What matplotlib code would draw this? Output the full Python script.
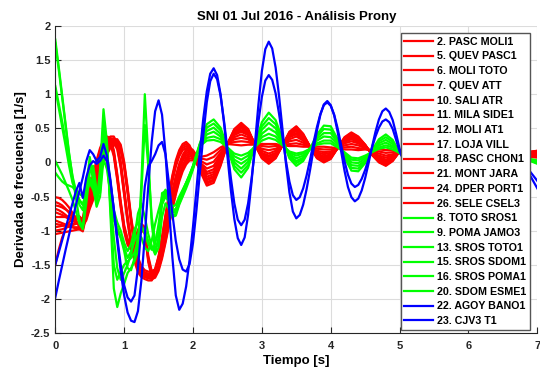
import numpy as np
import matplotlib
matplotlib.use("Agg")
import matplotlib.pyplot as plt

plt.rcParams['font.family'] = ['Liberation Sans', 'DejaVu Sans']
plt.rcParams['font.weight'] = 'bold'

# ---------------- sample times ----------------
tail_t = [5.2, 5.6, 6.0, 6.4, 6.7, 6.9, 7.0]
t_blue = list(np.round(np.arange(0, 5.0001, 0.05), 2)) + tail_t
t_rg = (list(np.round(np.arange(0, 2.0001, 0.05), 2))
        + list(np.round(np.arange(2.1, 5.0001, 0.1), 2)) + tail_t)

# ---------------- labels ----------------
red_labels = ['2. PASC MOLI1', '5. QUEV PASC1', '6. MOLI TOTO', '7. QUEV ATT',
              '10. SALI ATR', '11. MILA SIDE1', '12. MOLI AT1', '17. LOJA VILL',
              '18. PASC CHON1', '21. MONT JARA', '24. DPER PORT1', '26. SELE CSEL3']
green_labels = ['8. TOTO SROS1', '9. POMA JAMO3', '13. SROS TOTO1',
                '15. SROS SDOM1', '16. SROS POMA1', '20. SDOM ESME1']
blue_labels = ['22. AGOY BANO1', '23. CJV3 T1']

# ---------------- red series (t_rg) ----------------
red_02 = [-0.51, -0.52, -0.55, -0.60, -0.66, -0.74, -0.84,
          -0.95, -0.98, -0.75, -0.55, -0.40, -0.18, 0.00, 0.15, 0.26, 0.32, 0.32, 0.22, -0.05, -0.45, -0.85, -1.18, -1.42, -1.58, -1.65, -1.68, -1.70, -1.70, -1.62, -1.45, -1.22, -0.98, -0.72, -0.48, -0.26, -0.08, 0.05, 0.13, 0.16, 0.12,
          -0.12, -0.34, -0.30, -0.05,
          0.27, 0.49, 0.58, 0.49, 0.26, 0.06, -0.02, 0.06, 0.25, 0.45, 0.53, 0.42, 0.23, 0.06, 0.00, 0.05, 0.21, 0.37, 0.44, 0.38, 0.26, 0.11, 0.00, -0.05, 0.02, 0.16,
          0.35, -0.04, 0.29, -0.02, 0.05, 0.16, 0.17]
red_05 = [-0.58, -0.60, -0.63, -0.68, -0.74, -0.80, -0.86,
          -0.92, -0.85, -0.55, -0.42, -0.20, 0.00, 0.18, 0.30, 0.35, 0.33, 0.15, -0.20, -0.60, -0.95, -1.15, -1.22, -1.18, -1.02, -0.93, -0.98, -1.40, -1.62, -1.60, -1.40, -1.12, -0.80, -0.50, -0.22, 0.00, 0.15, 0.24, 0.27, 0.22, 0.10,
          -0.10, -0.31, -0.27, -0.03,
          0.27, 0.48, 0.56, 0.48, 0.26, 0.07, -0.01, 0.07, 0.25, 0.44, 0.52, 0.41, 0.23, 0.07, 0.01, 0.06, 0.21, 0.36, 0.43, 0.37, 0.26, 0.11, 0.01, -0.04, 0.03, 0.16,
          0.34, -0.03, 0.28, -0.01, 0.06, 0.15, 0.17]
red_06 = [-0.63, -0.64, -0.66, -0.69, -0.72, -0.76, -0.80,
          -0.85, -0.90, -0.82, -0.65, -0.52, -0.35, -0.15, 0.02, 0.15, 0.24, 0.28, 0.28, 0.20, -0.05, -0.42, -0.85, -1.20, -1.45, -1.58, -1.64, -1.66, -1.68, -1.66, -1.56, -1.38, -1.15, -0.90, -0.66, -0.44, -0.25, -0.10, 0.00, 0.06, 0.06,
          -0.09, -0.29, -0.25, -0.01,
          0.27, 0.47, 0.55, 0.47, 0.26, 0.08, 0.01, 0.08, 0.25, 0.43, 0.50, 0.40, 0.23, 0.08, 0.02, 0.07, 0.21, 0.35, 0.42, 0.36, 0.25, 0.12, 0.02, -0.03, 0.03, 0.16,
          0.33, -0.02, 0.27, 0.00, 0.06, 0.15, 0.16]
red_07 = [-0.68, -0.70, -0.73, -0.77, -0.81, -0.85, -0.89,
          -0.92, -0.95, -0.72, -0.52, -0.37, -0.15, 0.03, 0.18, 0.29, 0.35, 0.35, 0.25, -0.02, -0.42, -0.82, -1.15, -1.39, -1.55, -1.62, -1.65, -1.67, -1.67, -1.59, -1.42, -1.19, -0.95, -0.69, -0.45, -0.23, -0.05, 0.08, 0.16, 0.19, 0.15,
          -0.08, -0.26, -0.22, 0.01,
          0.27, 0.46, 0.53, 0.46, 0.26, 0.09, 0.02, 0.09, 0.25, 0.42, 0.49, 0.39, 0.23, 0.08, 0.03, 0.07, 0.21, 0.34, 0.40, 0.35, 0.25, 0.12, 0.03, -0.02, 0.04, 0.16,
          0.32, -0.01, 0.26, 0.01, 0.07, 0.14, 0.16]
red_10 = [-0.73, -0.75, -0.77, -0.80, -0.83, -0.85, -0.87,
          -0.89, -0.82, -0.52, -0.39, -0.17, 0.03, 0.21, 0.33, 0.38, 0.36, 0.18, -0.17, -0.57, -0.92, -1.12, -1.19, -1.15, -0.99, -0.90, -0.95, -1.37, -1.59, -1.57, -1.37, -1.09, -0.77, -0.47, -0.19, 0.03, 0.18, 0.27, 0.30, 0.25, 0.13,
          -0.06, -0.24, -0.20, 0.02,
          0.27, 0.45, 0.52, 0.45, 0.26, 0.10, 0.04, 0.10, 0.25, 0.41, 0.47, 0.38, 0.23, 0.09, 0.04, 0.08, 0.21, 0.34, 0.39, 0.34, 0.25, 0.12, 0.04, -0.01, 0.05, 0.16,
          0.31, 0.00, 0.25, 0.02, 0.07, 0.14, 0.15]
red_11 = [-0.80, -0.80, -0.80, -0.80, -0.80, -0.81, -0.81,
          -0.82, -0.87, -0.79, -0.62, -0.49, -0.32, -0.12, 0.05, 0.18, 0.27, 0.31, 0.31, 0.23, -0.02, -0.39, -0.82, -1.17, -1.42, -1.55, -1.61, -1.63, -1.65, -1.63, -1.53, -1.35, -1.12, -0.87, -0.63, -0.41, -0.22, -0.07, 0.03, 0.09, 0.09,
          -0.05, -0.21, -0.17, 0.04,
          0.27, 0.43, 0.50, 0.43, 0.26, 0.11, 0.05, 0.11, 0.25, 0.40, 0.46, 0.37, 0.23, 0.10, 0.06, 0.09, 0.21, 0.33, 0.38, 0.33, 0.24, 0.13, 0.05, 0.01, 0.06, 0.16,
          0.30, 0.01, 0.25, 0.02, 0.07, 0.13, 0.14]
red_12 = [-0.85, -0.87, -0.89, -0.91, -0.93, -0.95, -0.97,
          -0.98, -1.01, -0.78, -0.58, -0.43, -0.21, -0.03, 0.12, 0.23, 0.29, 0.29, 0.19, -0.08, -0.48, -0.88, -1.21, -1.45, -1.61, -1.68, -1.71, -1.73, -1.73, -1.65, -1.48, -1.25, -1.01, -0.75, -0.51, -0.29, -0.11, 0.02, 0.10, 0.13, 0.09,
          -0.03, -0.17, -0.14, 0.06,
          0.27, 0.42, 0.47, 0.42, 0.26, 0.13, 0.08, 0.13, 0.25, 0.38, 0.43, 0.36, 0.23, 0.11, 0.07, 0.10, 0.21, 0.31, 0.36, 0.32, 0.24, 0.13, 0.06, 0.02, 0.07, 0.16,
          0.28, 0.03, 0.24, 0.03, 0.08, 0.13, 0.13]
red_17 = [-0.90, -0.91, -0.92, -0.93, -0.94, -0.95, -0.95,
          -0.95, -0.88, -0.58, -0.45, -0.23, -0.03, 0.15, 0.27, 0.32, 0.30, 0.12, -0.23, -0.63, -0.98, -1.18, -1.25, -1.21, -1.05, -0.96, -1.01, -1.43, -1.65, -1.63, -1.43, -1.15, -0.83, -0.53, -0.25, -0.03, 0.12, 0.21, 0.24, 0.19, 0.07,
          -0.02, -0.14, -0.10, 0.08,
          0.27, 0.40, 0.45, 0.40, 0.26, 0.14, 0.10, 0.14, 0.25, 0.37, 0.41, 0.34, 0.23, 0.13, 0.09, 0.12, 0.21, 0.30, 0.34, 0.30, 0.23, 0.14, 0.08, 0.04, 0.08, 0.16,
          0.27, 0.04, 0.23, 0.04, 0.08, 0.12, 0.12]
red_18 = [-0.95, -0.94, -0.93, -0.92, -0.91, -0.90, -0.89,
          -0.88, -0.93, -0.85, -0.68, -0.55, -0.38, -0.18, -0.01, 0.12, 0.21, 0.25, 0.25, 0.17, -0.08, -0.45, -0.88, -1.23, -1.48, -1.61, -1.67, -1.69, -1.71, -1.69, -1.59, -1.41, -1.18, -0.93, -0.69, -0.47, -0.28, -0.13, -0.03, 0.03, 0.03,
          0.00, -0.09, -0.05, 0.11,
          0.27, 0.37, 0.41, 0.37, 0.26, 0.17, 0.13, 0.17, 0.25, 0.34, 0.38, 0.32, 0.23, 0.15, 0.12, 0.14, 0.21, 0.28, 0.31, 0.28, 0.22, 0.15, 0.10, 0.07, 0.10, 0.16,
          0.24, 0.06, 0.21, 0.06, 0.08, 0.11, 0.11]
red_21 = [-1.00, -0.99, -0.98, -0.96, -0.94, -0.92, -0.90,
          -0.89, -0.92, -0.69, -0.49, -0.34, -0.12, 0.06, 0.21, 0.32, 0.38, 0.38, 0.28, 0.01, -0.39, -0.79, -1.12, -1.36, -1.52, -1.59, -1.62, -1.64, -1.64, -1.56, -1.39, -1.16, -0.92, -0.66, -0.42, -0.20, -0.02, 0.11, 0.19, 0.22, 0.18,
          0.03, -0.03, 0.01, 0.14,
          0.27, 0.34, 0.36, 0.34, 0.26, 0.20, 0.18, 0.20, 0.25, 0.31, 0.33, 0.29, 0.23, 0.17, 0.15, 0.16, 0.21, 0.25, 0.27, 0.25, 0.21, 0.16, 0.13, 0.10, 0.12, 0.16,
          0.21, 0.09, 0.19, 0.08, 0.09, 0.10, 0.10]
red_24 = [-1.05, -1.04, -1.03, -1.02, -1.01, -1.00, -0.99,
          -0.98, -0.91, -0.61, -0.48, -0.26, -0.06, 0.12, 0.24, 0.29, 0.27, 0.09, -0.26, -0.66, -1.01, -1.21, -1.28, -1.24, -1.08, -0.99, -1.04, -1.46, -1.68, -1.66, -1.46, -1.18, -0.86, -0.56, -0.28, -0.06, 0.09, 0.18, 0.21, 0.16, 0.04,
          0.06, 0.04, 0.08, 0.18,
          0.27, 0.30, 0.31, 0.30, 0.26, 0.24, 0.23, 0.24, 0.25, 0.27, 0.28, 0.26, 0.23, 0.20, 0.19, 0.19, 0.21, 0.22, 0.23, 0.21, 0.20, 0.17, 0.16, 0.14, 0.15, 0.16,
          0.17, 0.12, 0.16, 0.10, 0.09, 0.09, 0.08]
red_26 = [-1.50, -1.28, -1.10, -0.97, -0.88, -0.82, -0.80,
          -0.79, -0.84, -0.76, -0.59, -0.46, -0.29, -0.09, 0.08, 0.21, 0.30, 0.34, 0.34, 0.26, 0.01, -0.36, -0.79, -1.14, -1.39, -1.52, -1.58, -1.60, -1.62, -1.60, -1.50, -1.32, -1.09, -0.84, -0.60, -0.38, -0.19, -0.04, 0.06, 0.12, 0.12,
          0.08, 0.10, 0.15, 0.22,
          0.27, 0.26, 0.25, 0.26, 0.26, 0.27, 0.27, 0.27, 0.25, 0.24, 0.24, 0.23, 0.23, 0.23, 0.23, 0.22, 0.21, 0.19, 0.19, 0.18, 0.19, 0.18, 0.19, 0.18, 0.18, 0.16,
          0.14, 0.15, 0.13, 0.12, 0.09, 0.08, 0.07]

# ---------------- green series (t_rg) ----------------
green_08 = [1.80, 1.40, 0.98, 0.56, 0.14, -0.22, -0.52, -0.84, -0.96, -0.38,
            0.08, -0.18, -0.58, -0.10, 0.78, 0.30, -0.75, -1.85, -2.12, -1.92,
            -1.78, -1.62, -1.55, -1.45, -1.30, -0.30, 1.00, 0.10, -0.90, -1.30,
            -1.15, -0.45, -0.42, -0.55, -0.74, -0.72, -0.55, -0.42, -0.30, -0.18,
            -0.05,
            0.28, 0.56, 0.63, 0.51, 0.21, -0.10, -0.22, -0.08, 0.26, 0.59, 0.73, 0.62, 0.34, 0.06, -0.05,
            0.02, 0.20, 0.41, 0.54, 0.53, 0.34, 0.07, -0.12, -0.13, -0.01, 0.18, 0.34, 0.41, 0.33, 0.14,
            -0.05, 0.32, -0.04, 0.22, 0.12, 0.02, -0.02]
green_09 = [1.75, 1.36, 0.95, 0.53, 0.12, -0.20, -0.42, -0.62, -0.70, -0.32,
            -0.02, -0.25, -0.62, -0.25, 0.60, 0.25, -0.65, -1.50, -1.72, -1.60,
            -1.50, -1.45, -1.40, -1.32, -1.15, -0.45, 0.55, -0.05, -0.80, -1.15,
            -1.05, -0.50, -0.40, -0.50, -0.68, -0.70, -0.58, -0.45, -0.33, -0.20,
            -0.05,
            0.27, 0.51, 0.57, 0.47, 0.21, -0.05, -0.15, -0.04, 0.25, 0.53, 0.65, 0.56, 0.32, 0.08, -0.01,
            0.05, 0.20, 0.38, 0.49, 0.48, 0.32, 0.09, -0.08, -0.09, 0.01, 0.17, 0.31, 0.37, 0.30, 0.14,
            -0.02, 0.29, -0.02, 0.20, 0.11, 0.03, -0.01]
green_13 = [1.12, 0.86, 0.60, 0.32, 0.04, -0.25, -0.45, -0.55, -0.62, -0.45,
            -0.30, -0.40, -0.58, -0.30, 0.45, 0.20, -0.40, -0.85, -0.95, -1.10,
            -1.30, -1.55, -1.58, -1.40, -1.10, -0.95, -1.00, -1.15, -1.25, -1.32,
            -1.10, -0.62, -0.50, -0.58, -0.78, -0.75, -0.60, -0.48, -0.35, -0.22,
            -0.08,
            0.26, 0.46, 0.51, 0.42, 0.21, 0.00, -0.09, 0.01, 0.25, 0.48, 0.58, 0.50, 0.30, 0.10, 0.02,
            0.07, 0.20, 0.35, 0.43, 0.43, 0.29, 0.10, -0.04, -0.05, 0.03, 0.17, 0.28, 0.33, 0.27, 0.14,
            0.00, 0.26, 0.00, 0.18, 0.10, 0.03, 0.00]
green_15 = [1.08, 0.80, 0.52, 0.24, -0.05, -0.30, -0.40, -0.46, -0.50, -0.38,
            -0.22, -0.30, -0.50, -0.35, 0.35, 0.12, -0.30, -0.70, -0.88, -1.00,
            -1.18, -1.30, -1.20, -0.98, -0.88, -0.92, -1.05, -1.20, -1.28, -1.20,
            -0.90, -0.55, -0.45, -0.55, -0.72, -0.68, -0.55, -0.42, -0.30, -0.18,
            -0.06,
            0.25, 0.41, 0.45, 0.38, 0.21, 0.04, -0.02, 0.05, 0.24, 0.42, 0.50, 0.44, 0.29, 0.12, 0.06,
            0.10, 0.20, 0.32, 0.38, 0.37, 0.27, 0.12, 0.00, -0.01, 0.06, 0.16, 0.25, 0.29, 0.24, 0.14,
            0.03, 0.23, 0.02, 0.16, 0.09, 0.04, 0.01]
green_16 = [0.02, -0.08, -0.18, -0.30, -0.42, -0.55, -0.72, -0.90, -0.98, -0.60,
            -0.15, -0.05, -0.40, -0.45, 0.20, 0.05, -0.55, -1.10, -1.55, -1.72,
            -1.62, -1.50, -1.35, -1.10, -0.75, -0.60, -0.80, -1.05, -1.22, -1.35,
            -1.25, -0.80, -0.60, -0.68, -0.80, -0.78, -0.62, -0.50, -0.38, -0.25,
            -0.10,
            0.24, 0.36, 0.38, 0.34, 0.22, 0.09, 0.04, 0.10, 0.24, 0.37, 0.42, 0.38, 0.27, 0.14, 0.10,
            0.13, 0.20, 0.28, 0.32, 0.32, 0.24, 0.14, 0.04, 0.03, 0.08, 0.16, 0.22, 0.25, 0.22, 0.14,
            0.05, 0.20, 0.04, 0.14, 0.08, 0.04, 0.02]
green_20 = [-0.15, -0.22, -0.28, -0.32, -0.34, -0.36, -0.42, -0.55, -0.62, -0.42,
            -0.25, -0.35, -0.65, -0.50, 0.05, -0.10, -0.45, -0.80, -1.00, -1.10,
            -1.25, -1.40, -1.30, -1.15, -1.05, -1.10, -1.25, -1.30, -1.15, -0.90,
            -0.70, -0.52, -0.45, -0.52, -0.65, -0.62, -0.50, -0.40, -0.30, -0.20,
            -0.08,
            0.24, 0.32, 0.33, 0.30, 0.22, 0.13, 0.10, 0.14, 0.23, 0.32, 0.36, 0.33, 0.25, 0.16, 0.13,
            0.15, 0.20, 0.26, 0.28, 0.28, 0.22, 0.15, 0.07, 0.06, 0.10, 0.15, 0.20, 0.22, 0.19, 0.14,
            0.07, 0.17, 0.06, 0.12, 0.08, 0.05, 0.03]

# ---------------- blue series (t_blue) ----------------
blue_22 = [-1.98, -1.74, -1.51, -1.28, -1.06, -0.84, -0.62, -0.42, -0.22, 0.02,
           0.18, 0.12, 0.02, 0.08, 0.27, 0.10, -0.25, -0.70, -1.15, -1.60,
           -1.95, -2.20, -2.32, -2.34, -2.18, -1.73, -1.08, -0.35, 0.30, 0.75,
           0.91, 0.70, 0.14, -0.63, -1.39, -1.95, -2.16, -2.07, -1.82, -1.43,
           -0.94, -0.39, 0.16, 0.65, 1.04, 1.30, 1.38, 1.28, 1.00, 0.58,
           0.09, -0.41, -0.83, -1.11, -1.21, -1.10, -0.77, -0.29, 0.28, 0.85,
           1.34, 1.66, 1.77, 1.67, 1.39, 0.97, 0.48, -0.02, -0.44, -0.72,
           -0.82, -0.77, -0.62, -0.39, -0.11, 0.19, 0.47, 0.70, 0.85, 0.90,
           0.84, 0.69, 0.45, 0.17, -0.12, -0.36, -0.51, -0.57, -0.53, -0.41,
           -0.23, -0.01, 0.23, 0.45, 0.63, 0.75, 0.79, 0.74, 0.62, 0.42,
           0.20,
           -0.40, 0.62, -0.30, 0.48, 0.15, -0.20, -0.38]
blue_23 = [-1.50, -1.32, -1.14, -0.96, -0.78, -0.60, -0.42, -0.30, -0.52, -0.22,
           -0.04, 0.02, -0.02, 0.02, 0.10, 0.02, -0.28, -0.68, -1.10, -1.50,
           -1.80, -1.98, -2.04, -1.95, -1.55, -0.95, -0.35, -0.06, 0.02, 0.12,
           0.25, 0.30, 0.12, -0.30, -0.75, -1.15, -1.42, -1.57, -1.60, -1.49,
           -1.18, -0.70, -0.15, 0.40, 0.88, 1.19, 1.30, 1.22, 0.98, 0.61,
           0.19, -0.23, -0.60, -0.84, -0.92, -0.84, -0.60, -0.24, 0.18, 0.60,
           0.96, 1.20, 1.28, 1.21, 1.01, 0.71, 0.37, 0.02, -0.28, -0.48,
           -0.55, -0.51, -0.38, -0.19, 0.04, 0.29, 0.52, 0.71, 0.84, 0.88,
           0.83, 0.70, 0.50, 0.26, 0.02, -0.18, -0.31, -0.36, -0.33, -0.24,
           -0.11, 0.05, 0.22, 0.38, 0.51, 0.60, 0.63, 0.59, 0.49, 0.33,
           0.16,
           -0.28, 0.50, -0.20, 0.38, 0.12, -0.14, -0.27]

red_series = [red_02, red_05, red_06, red_07, red_10, red_11,
              red_12, red_17, red_18, red_21, red_24, red_26]
green_series = [green_08, green_09, green_13, green_15, green_16, green_20]
blue_series = [blue_22, blue_23]

x_ticks = [0, 1, 2, 3, 4, 5, 6, 7]
y_ticks = [-2.5, -2, -1.5, -1, -0.5, 0, 0.5, 1, 1.5, 2]
y_tick_labels = ['-2.5', '-2', '-1.5', '-1', '-0.5', '0', '0.5', '1', '1.5', '2']

# ---------------- figure ----------------
fig = plt.figure(figsize=(5.4, 3.69), dpi=100)
ax = fig.add_axes([0.1024, 0.0976, 0.8926, 0.832])

lw = 1.6
for lab, ys in zip(red_labels, red_series):
    assert len(ys) == len(t_rg), (lab, len(ys))
    ax.plot(t_rg, ys, color='#ff0000', lw=lw, label=lab)
for lab, ys in zip(green_labels, green_series):
    assert len(ys) == len(t_rg), (lab, len(ys))
    ax.plot(t_rg, ys, color='#00ff00', lw=lw, label=lab)
for lab, ys in zip(blue_labels, blue_series):
    assert len(ys) == len(t_blue), (lab, len(ys))
    ax.plot(t_blue, ys, color='#0000ff', lw=lw, label=lab)

ax.set_xlim(0, 7)
ax.set_ylim(-2.5, 2)
ax.set_xticks(x_ticks)
ax.set_yticks(y_ticks)
ax.set_yticklabels(y_tick_labels)
ax.grid(True, color='#dcdcdc', lw=0.8)
ax.set_axisbelow(True)
for s in ['top', 'right']:
    ax.spines[s].set_visible(False)
for s in ['left', 'bottom']:
    ax.spines[s].set_color('#262626')
    ax.spines[s].set_linewidth(0.8)
ax.tick_params(direction='in', length=4.5, width=0.8, labelsize=8,
               colors='#262626')
ax.tick_params(axis='x', pad=6.0)
ax.tick_params(axis='y', pad=3.5)

ax.set_title('SNI 01 Jul 2016 - Análisis Prony', fontsize=9.5,
             fontweight='bold', pad=4.5)
ax.set_xlabel('Tiempo [s]', fontsize=9.5, fontweight='bold', labelpad=2.5)
ax.set_ylabel('Derivada de frecuencia [1/s]', fontsize=9.5,
              fontweight='bold', labelpad=3)

leg = ax.legend(loc='upper left', bbox_to_anchor=(0.7166, 0.977),
                borderaxespad=0, prop={'weight': 'bold', 'size': 7.7},
                frameon=True, fancybox=False, framealpha=1,
                edgecolor='#555555', borderpad=0.35, handlelength=2.7,
                handletextpad=0.35, labelspacing=0.44)
leg.get_frame().set_linewidth(1.0)

fig.savefig('out.png', dpi=100)
